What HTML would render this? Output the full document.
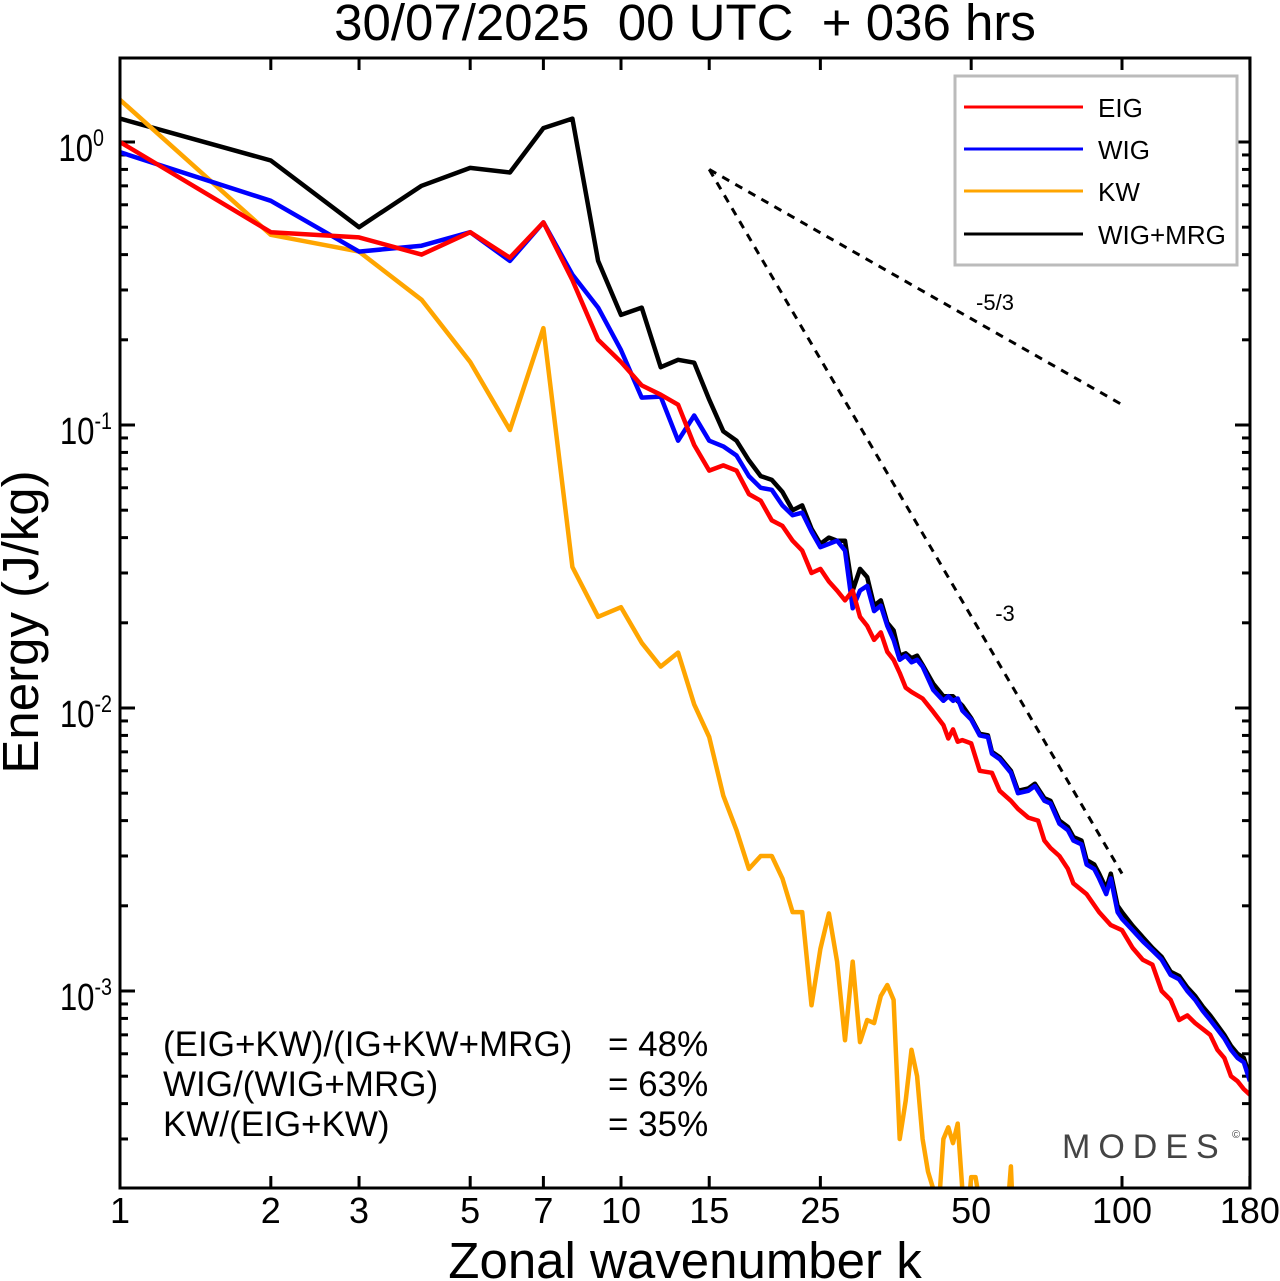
<!DOCTYPE html>
<html><head><meta charset="utf-8"><style>
html,body{margin:0;padding:0;background:#fff;}
svg{display:block;font-family:"Liberation Sans",sans-serif;}
</style></head><body>
<svg id="chart" width="1280" height="1281" viewBox="0 0 1280 1281">
<text x="685" y="40" font-size="51" text-anchor="middle" xml:space="preserve">30/07/2025  00 UTC  + 036 hrs</text>
<text x="685" y="1278" font-size="51" text-anchor="middle">Zonal wavenumber k</text>
<text transform="translate(38,622) rotate(-90)" font-size="51" text-anchor="middle">Energy (J/kg)</text>
<defs><clipPath id="pc"><rect x="120" y="58" width="1130" height="1130"/></clipPath></defs>
<g id="ticks"></g>
<g id="series" clip-path="url(#pc)"></g>
<rect x="120" y="58" width="1130" height="1130" fill="none" stroke="#000" stroke-width="3"/>
<g>
<rect x="955" y="76" width="282" height="189" fill="#fff" stroke="#bbb" stroke-width="3"/>
<line x1="964" y1="107" x2="1083" y2="107" stroke="#f00" stroke-width="3"/>
<text x="1098" y="117" font-size="26">EIG</text>
<line x1="964" y1="149" x2="1083" y2="149" stroke="#00f" stroke-width="3"/>
<text x="1098" y="159" font-size="26">WIG</text>
<line x1="964" y1="191" x2="1083" y2="191" stroke="#ffa500" stroke-width="3"/>
<text x="1098" y="201" font-size="26">KW</text>
<line x1="964" y1="234" x2="1083" y2="234" stroke="#000" stroke-width="3"/>
<text x="1098" y="244" font-size="26">WIG+MRG</text>
</g>
<text x="995" y="310" font-size="22" text-anchor="middle">-5/3</text>
<text x="1005" y="621" font-size="22" text-anchor="middle">-3</text>
<g font-size="35">
<text x="163" y="1056">(EIG+KW)/(IG+KW+MRG)</text><text x="608" y="1056">= 48%</text>
<text x="163" y="1096">WIG/(WIG+MRG)</text><text x="608" y="1096">= 63%</text>
<text x="163" y="1136">KW/(EIG+KW)</text><text x="608" y="1136">= 35%</text>
</g>
<text x="1062" y="1158" font-size="34" fill="#444" letter-spacing="8">MODES</text>
<text x="1232" y="1138" font-size="11" fill="#444">©</text>
</svg>
<script>
const xTicks=[1,2,3,5,7,10,15,25,50,100,180];
const yDecades=[0,-1,-2,-3];
const kEIG=[1,2,3,4,5,6,7,8,9,10,11,12,13,14,15,16,17,18,19,20,21,22,23,24,25,26,27,28,29,30,31,32,33,34,35,36,37,38,40,42,44,45,46,47,48,50,52,55,57,60,62,65,68,70,72,75,78,80,85,90,95,100,105,110,115,120,125,130,135,140,150,155,160,165,170,175,180];
const vEIG=[1.0,0.48,0.46,0.40,0.48,0.39,0.52,0.325,0.20,0.167,0.138,0.128,0.118,0.085,0.069,0.072,0.069,0.057,0.054,0.046,0.044,0.039,0.036,0.030,0.031,0.028,0.026,0.024,0.026,0.021,0.0195,0.0174,0.0185,0.0158,0.0148,0.0133,0.0118,0.0114,0.0108,0.0097,0.0087,0.0078,0.0084,0.0076,0.0077,0.0075,0.0060,0.0059,0.0051,0.0047,0.0044,0.0041,0.0040,0.0034,0.0032,0.0030,0.0027,0.0024,0.0022,0.0019,0.00171,0.00164,0.00142,0.00129,0.00124,0.0010,0.00093,0.00079,0.00082,0.00077,0.00070,0.00062,0.00058,0.00050,0.00048,0.00045,0.00043];
const kWIG=[1,2,3,4,5,6,7,8,9,10,11,12,13,14,15,16,17,18,19,20,21,22,23,24,25,26,27,28,29,30,31,32,33,34,35,36,37,38,39,40,42,44,45,46,47,48,50,52,54,55,57,60,62,65,67,70,72,75,78,80,83,85,88,90,93,95,98,100,105,110,115,120,125,130,135,140,145,150,160,165,170,175,180];
const vWIG=[0.92,0.62,0.41,0.43,0.48,0.38,0.52,0.34,0.26,0.184,0.125,0.126,0.088,0.108,0.088,0.084,0.078,0.066,0.060,0.059,0.052,0.048,0.049,0.042,0.037,0.038,0.039,0.036,0.0225,0.026,0.027,0.022,0.023,0.0195,0.0174,0.0148,0.0153,0.0145,0.0148,0.014,0.0116,0.0106,0.011,0.0106,0.0108,0.0098,0.0091,0.0080,0.0079,0.0069,0.0066,0.0059,0.0050,0.0051,0.0053,0.0047,0.0046,0.0039,0.0037,0.0034,0.0033,0.0028,0.0027,0.0025,0.0022,0.0025,0.0019,0.0018,0.00164,0.0015,0.00139,0.00129,0.00114,0.00110,0.0010,0.00093,0.00085,0.00079,0.00068,0.00062,0.00058,0.00056,0.00048];
const kMRG=[1,2,3,4,5,6,7,8,9,10,11,12,13,14,15,16,17,18,19,20,21,22,23,24,25,26,27,28,29,30,31,32,33,34,35,36,37,38,39,40,42,44,46,48,50,52,54,55,57,60,62,65,67,70,72,75,78,80,83,85,88,90,93,95,98,100,105,110,115,120,125,130,135,140,145,150,160,165,170,175,180];
const vMRG=[1.21,0.86,0.50,0.70,0.81,0.78,1.12,1.21,0.38,0.245,0.26,0.16,0.17,0.166,0.123,0.095,0.088,0.075,0.066,0.064,0.058,0.050,0.052,0.043,0.038,0.040,0.039,0.039,0.026,0.031,0.029,0.023,0.024,0.020,0.0188,0.0153,0.0156,0.015,0.0153,0.0142,0.0122,0.011,0.011,0.0102,0.0092,0.0081,0.0080,0.0070,0.0067,0.0060,0.0051,0.0052,0.0054,0.0048,0.0047,0.0040,0.0038,0.0035,0.0034,0.0029,0.0028,0.0026,0.0023,0.0026,0.0020,0.0019,0.0017,0.00155,0.00142,0.00132,0.00117,0.00113,0.00103,0.00096,0.00088,0.00082,0.0007,0.00064,0.0006,0.00058,0.0005];
const kKW=[1,2,3,4,5,6,7,8,9,10,11,12,13,14,15,16,17,18,19,20,21,22,23,24,25,26,27,28,29,30,31,32,33,34,35,36,37,38,39,40,41,42,43,44,45,46,47,48,49,50,51,52,53,55,58,60,61,62,65];
const vKW=[1.41,0.47,0.41,0.277,0.167,0.096,0.22,0.0315,0.021,0.0227,0.0170,0.0140,0.0157,0.0103,0.0079,0.0049,0.0037,0.0027,0.0030,0.0030,0.0025,0.0019,0.0019,0.00089,0.00141,0.00188,0.00127,0.00067,0.00127,0.00066,0.00079,0.00077,0.00096,0.00105,0.00093,0.00030,0.00041,0.00062,0.00050,0.00030,0.00023,0.00020,0.000165,0.00030,0.00033,0.00029,0.00034,0.00020,0.00015,0.00022,0.00022,0.00018,0.00012,0.00011,0.00011,0.00024,0.00012,0.0001,0.0001];
const refStart=[15,0.80];
const refEnd53=[100,0.118];
const refEnd3=[100,0.0026];

const X0=120,PX=501,Y0=142,PY=283;
function xs(k){return X0+PX*Math.log10(k);}
function ys(v){return Y0-PY*Math.log10(v);}
const NS='http://www.w3.org/2000/svg';
const tg=document.getElementById('ticks'),sg=document.getElementById('series'),svg=document.getElementById('chart');
function mk(tag,attrs,parent){const e=document.createElementNS(NS,tag);for(const a in attrs)e.setAttribute(a,attrs[a]);parent.appendChild(e);return e;}
xTicks.forEach(k=>{const x=xs(k);
 const t1=mk('line',{x1:x,y1:1188,x2:x,y2:1176,stroke:'#000','stroke-width':3},tg);
 
 
 const t2=mk('line',{x1:x,y1:58,x2:x,y2:70,stroke:'#000','stroke-width':3},tg);
 
 
 const lb=mk('text',{x:x,y:1223,'font-size':36,'text-anchor':'middle'},svg);
 lb.textContent=k;
 
 
});
yDecades.forEach(d=>{
 for(let m=1;m<10;m++){const v=m*Math.pow(10,d);const y=ys(v);if(y<58||y>1188)continue;const L=m===1?15:8;
  const a=mk('line',{x1:120,y1:y,x2:120+L,y2:y,stroke:'#000','stroke-width':3},tg);
  
  
  const b=mk('line',{x1:1250,y1:y,x2:1250-L,y2:y,stroke:'#000','stroke-width':3},tg);
  
  }
 for(let m=1;m<10;m++){const v=m*Math.pow(10,d-1);const y=ys(v);if(y<58||y>1188||d!==-3)continue;const L=m===1?15:8;
  const a=mk('line',{x1:120,y1:y,x2:120+L,y2:y,stroke:'#000','stroke-width':3},tg);
  
  
  const b=mk('line',{x1:1250,y1:y,x2:1250-L,y2:y,stroke:'#000','stroke-width':3},tg);
  
  }
 const y=ys(Math.pow(10,d));
 const lb=mk('text',{transform:'translate('+(d===0?104:112)+','+(y+19)+') scale(0.82,1)','font-size':38,'text-anchor':'end'},svg);
 lb.innerHTML='10<tspan dy="-15" font-size="24">'+(d===0?'0':d)+'</tspan>';
 
 
});
function refLine(a,b,name){const l=mk('line',{x1:xs(a[0]),y1:ys(a[1]),x2:xs(b[0]),y2:ys(b[1]),stroke:'#000','stroke-width':3,'stroke-dasharray':'8 7'},svg);
 
 }
refLine(refStart,refEnd53,'slope-ref-5-3');
refLine(refStart,refEnd3,'slope-ref-3');
function series(ks,vs,color,name){const pts=ks.map((k,i)=>xs(k).toFixed(1)+','+ys(vs[i]).toFixed(1)).join(' ');
 const p=mk('polyline',{points:pts,fill:'none',stroke:color,'stroke-width':4.5,'stroke-linejoin':'round'},sg);
 
 }
series(kMRG,vMRG,'#000','line-wig-mrg');
series(kKW,vKW,'#ffa500','line-kw');
series(kWIG,vWIG,'#00f','line-wig');
series(kEIG,vEIG,'#f00','line-eig');
</script>
</body></html>
